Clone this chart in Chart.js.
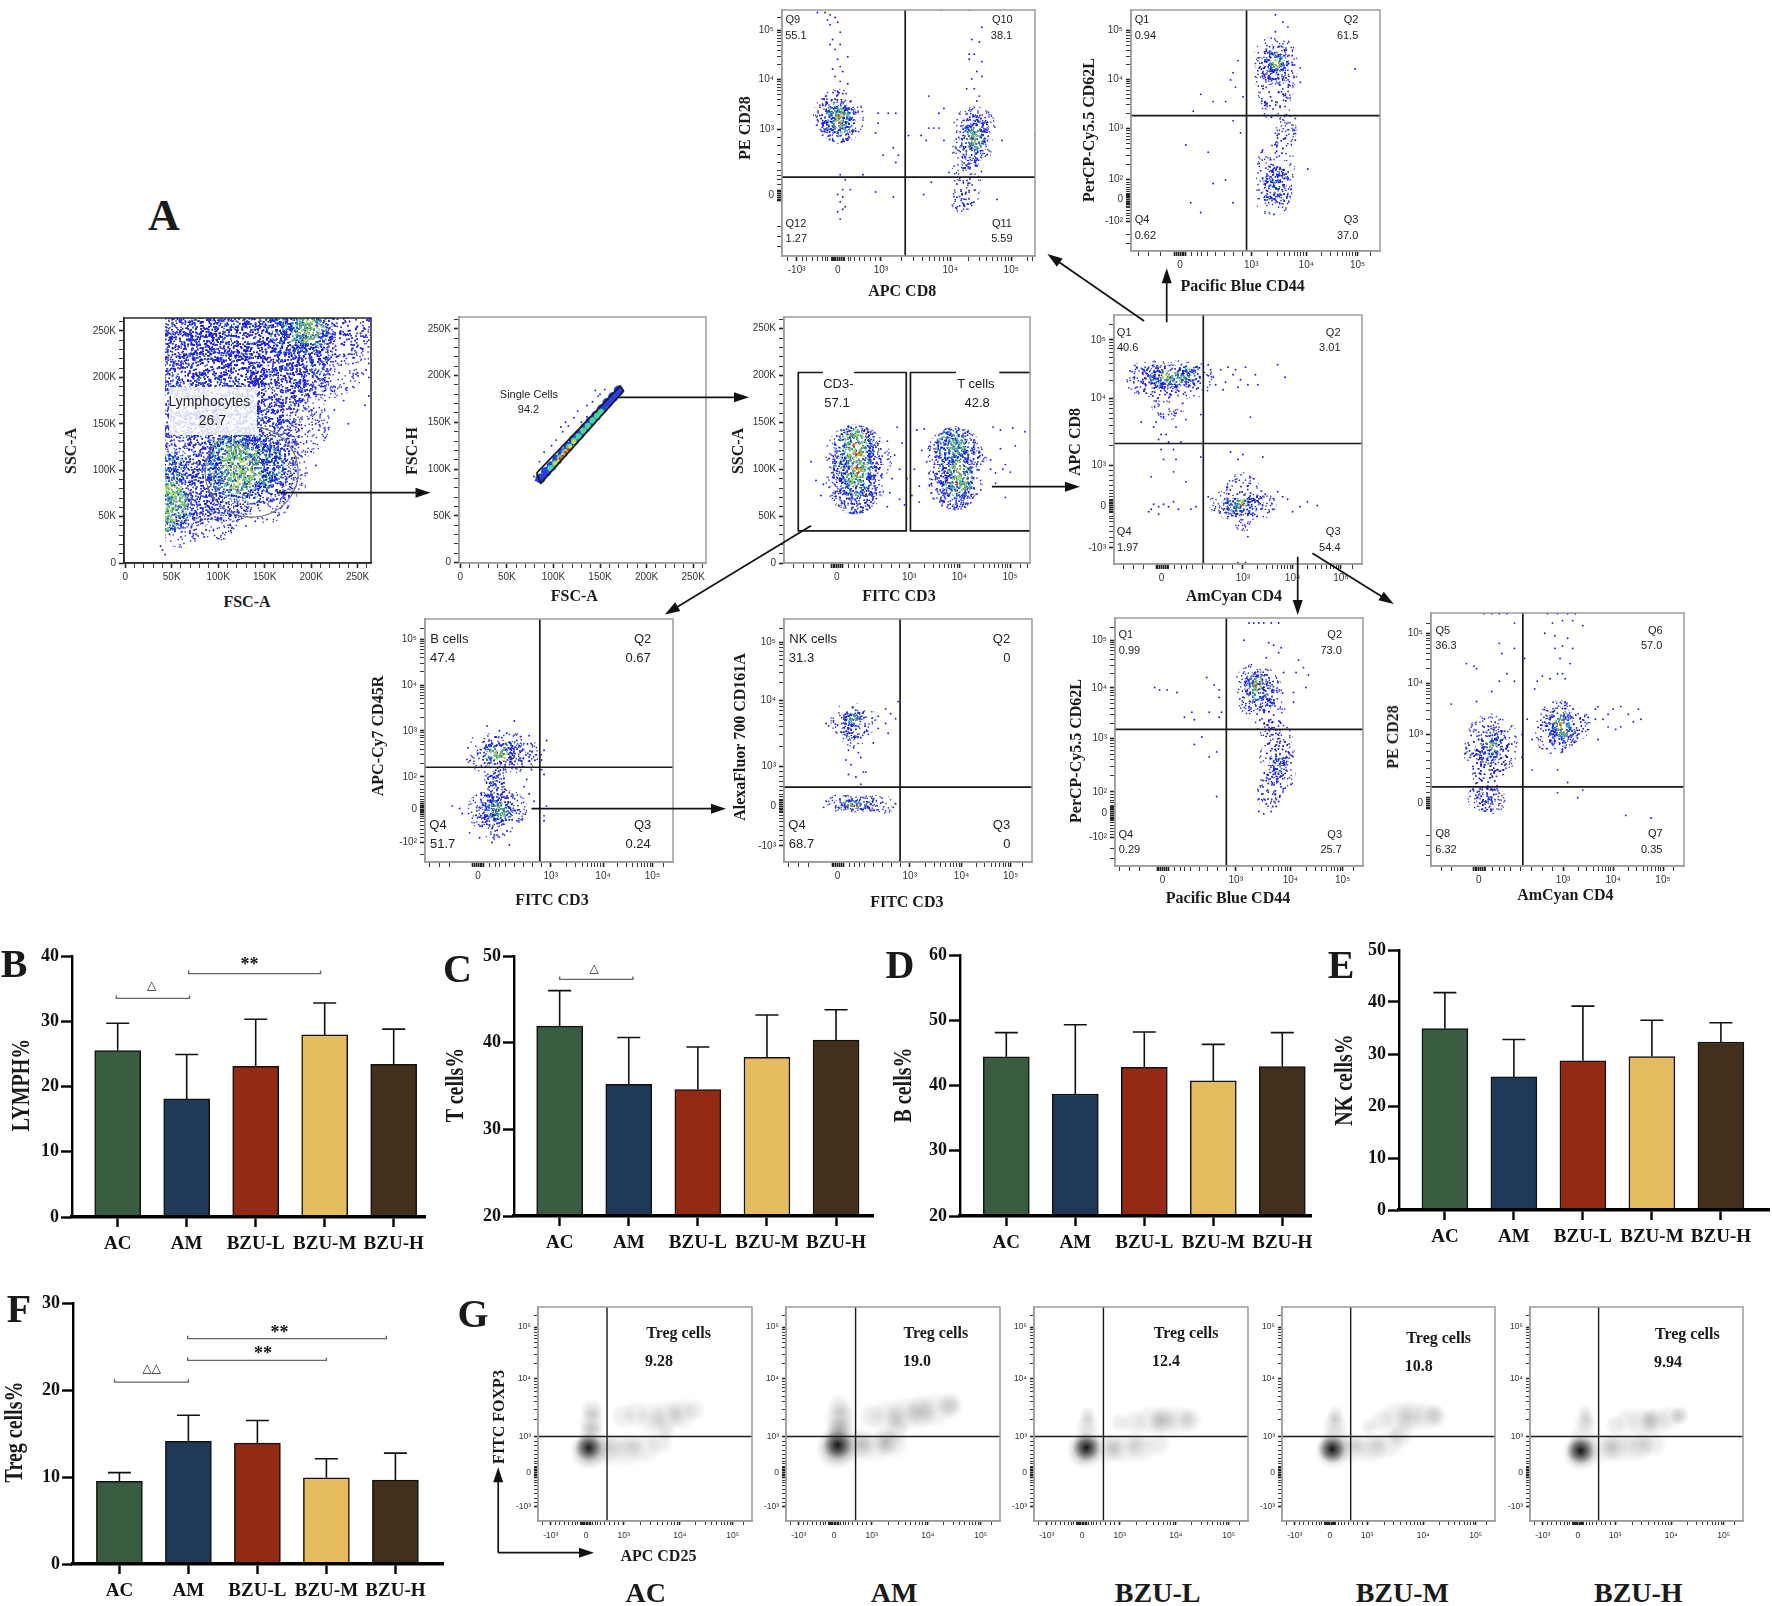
<!DOCTYPE html>
<html><head><meta charset="utf-8">
<script src="https://cdn.jsdelivr.net/npm/chart.js@4"></script>
<style>
html,body{margin:0;padding:0;background:#fff;width:1772px;height:1606px;overflow:hidden}
#stage{position:relative;width:1772px;height:1606px;background:#fff}
canvas{position:absolute}
.t{position:absolute;white-space:nowrap;transform-origin:center;color:#1a1a1a;line-height:1}
svg{position:absolute;left:0;top:0}
</style></head><body><div id="stage"></div>
<script>
/* ---------- bar panels ---------- */
const groups=['AC','AM','BZU-L','BZU-M','BZU-H'];
const barColors=['#3a5d41','#1f3a59','#952a14','#e5bd60','#43301c'];
const lymphMean=[25.5,18.1,23.1,27.9,23.4], lymphTop=[29.7,24.9,30.3,32.8,28.8];
const tCellMean=[41.9,35.2,34.6,38.3,40.3], tCellTop=[46.0,40.6,39.5,43.2,43.8];
const bCellMean=[44.4,38.7,42.8,40.7,42.9], bCellTop=[48.1,49.3,48.2,46.3,48.1];
const nkCellMean=[34.9,25.6,28.7,29.5,32.3], nkCellTop=[41.8,32.8,39.2,36.5,36.0];
const tregMean=[9.5,14.1,13.9,9.9,9.65], tregTop=[10.5,17.1,16.5,12.1,12.75];
const lymphBrackets=[[-0.02,1.04,33.5,'△',0.49,35.4],[1.03,2.94,37.3,'**',1.91,39.0]];
const tCellBrackets=[[0,1.06,47.3,'△',0.5,48.5]];
const tregBrackets=[[-0.07,1,20.9,'△△',0.47,22.4],[0.99,3,23.4,'**',2.08,24.4],[0.99,3.87,25.9,'**',2.32,26.9]];

/* ---------- flow tick labels ---------- */
const kLabels=['0','50K','100K','150K','200K','250K'], kValues=[0,50,100,150,200,250];
const sup={p2:'10²',p3:'10³',p4:'10⁴',p5:'10⁵',n2:'-10²',n3:'-10³'};

/* ---------- flow plots: [x, y, r] clouds, [x, y] stray events ---------- */
const p1Sparse=[[215,225,45],[215,262,45],[183,150,35],[240,255,24],[170,95,26],[150,70,26],[100,50,24],[60,40,22]];
const p1Mid=[[62,75,40],[62,125,40],[62,175,40],[62,225,45],[62,258,42],[110,85,38],[110,135,40],[110,180,40],[110,225,45],[110,258,42],[150,100,33],[150,145,38],[150,190,42],[150,235,42],[150,260,40],[190,205,30],[190,240,34],[190,262,30]];
const p1Dense=[[45,60,24],[45,100,20],[125,105,36],[115,125,20],[150,105,22],[195,250,22],[170,255,18]];
const p1Green=[[40,50,14],[48,65,17],[38,38,8],[52,80,10],[125,105,20],[125,90,13],[118,115,13],[195,250,13],[205,258,8]];
const p1Strays=[[240,150],[262,180],[262,200],[255,230],[245,215],[235,235],[225,190],[215,175],[205,150],[195,130],[190,145],[200,120],[180,125],[170,100],[170,70],[190,95],[215,135],[210,160],[225,165],[235,175],[245,190],[250,205],[258,170],[262,215],[262,240],[240,250],[250,255],[230,205],[220,220],[240,225],[228,255],[235,258],[215,245],[43,9],[38,18],[40,14],[60,28],[70,32],[75,26],[85,28],[95,35],[105,32],[115,38],[130,40],[140,45],[160,55],[175,60],[185,88],[205,105]];
const p2BandBlue=[[86,90],[92,97],[98,103],[104,110],[110,117],[116,124],[122,131],[128,137],[134,144],[140,151],[146,157],[152,164],[158,171],[164,177],[170,184]];
const p2BandGreen=[[97,101],[102,106],[107,112],[112,118],[117,124],[122,130],[127,135],[132,141],[137,146],[142,152],[147,157],[151,161]];
const p2BandYellow=[[102,106],[106,110],[110,115],[114,119],[118,124],[122,129]];
const p2BandRed=[[107,111],[110,114],[113,118],[116,121]];
const p2Strays=[[79,92],[81,88],[85,108],[90,118],[98,125],[103,131],[110,140],[108,145],[113,150],[116,146],[122,155],[126,162],[136,168],[142,172],[148,178],[145,184],[150,180],[155,185],[118,130],[130,150],[136,156]];
const p2Gate=[[81.9,95.7],[86.5,85],[175.2,183.3],[171.5,188.7],[81.9,95.7]];
const p3Sparse=[[29,116,30],[29,85,30],[36,110,20],[69.5,116,28],[69.5,86,28],[76,110,16]];
const p3Mid=[[29,122,24],[29,100,24],[29,75,22],[69.5,122,22],[69.5,100,22],[70,78,20]];
const p3Dense=[[29,125,18],[29,105,18],[29,88,16],[69,125,16],[70,105,16],[71,85,15]];
const p3Green=[[29,130,11],[30,110,11],[29,92,10],[70,125,9],[71,100,9],[71,85,9]];
const p3Red=[[30,115,4],[30,100,4],[29,125,3],[71,97,3],[70,85,3]];
const p3Strays=[[11,108],[13,88],[16,84],[15,72],[42,130],[46,145],[48,128],[45,115],[47,100],[44,90],[43,75],[47,68],[49,62],[42,60],[50,90],[53,100],[55,82],[52,72],[55,65],[54,142],[57,143],[56,120],[58,108],[59,96],[85,145],[88,142],[93,144],[98,140],[88,122],[84,110],[84,100],[86,96],[89,100],[92,97],[90,105],[86,85],[80,78],[90,70],[94,125],[100,118],[62,118],[60,85]];
const p3Gate1=[[15.8,203.3],[5.8,203.3],[5.8,34.2],[49.7,34.2],[49.7,203.3],[28.5,203.3]];
const p3Gate2=[[69.9,203.3],[51.4,203.3],[51.4,34.2],[100,34.2]];
const p3Gate3=[[100,203.3],[87.5,203.3]];
const p4Sparse=[[22.3,56.3,26],[22,60,20],[76,52,22],[75,43,20],[73,33,16],[73,26,14],[71.5,22,12]];
const p4Mid=[[22.3,57,18],[22.3,53,18],[76,52,15],[76,47,15],[74,38,10]];
const p4Dense=[[22.3,58,12],[22.3,54,12],[76,50,10],[76,47,10]];
const p4Green=[[22.3,58,6],[22.3,54,6],[76,50,6],[76.5,47,6]];
const p4Red=[[22.5,57,2.5],[22.3,54,2.5],[77,48,2]];
const p4Strays=[[14,99],[17,99],[19,98],[18,96],[21,97],[19,94],[22,95],[23,91],[20,88],[21,84],[19,86],[23,86],[26,81],[22,80],[23,77],[20,76],[24,75],[21,73],[23,71],[26,70],[22,67],[24,66],[79,93],[75,88],[78,87],[74,82],[76,82],[74,80],[79,79],[77,75],[75,72],[79,73],[73,68],[76,68],[78,65],[77,63],[63,100],[74,100],[58,65],[64,60],[62,58],[58,52],[60,52],[62,52],[55,49],[57,47],[64,47],[38,58],[42,58],[38,54],[45,58],[37,50],[44,44],[40,41],[45,38],[46,41],[23,33],[25,31],[27,27],[30,32],[32,33],[24,27],[22,25],[23,22],[25,20],[22,18],[24,24],[37,26],[44,24],[24,19],[23,15],[52,32],[59,30],[56,25],[66,34],[85,23],[87,47],[100,49],[50,49]];
const p5Sparse=[[58,80,22],[58,73,22],[58,66,18],[58,60,15],[58,36,20],[58,28,20],[57,22,18],[60,44,12],[62,50,12]];
const p5Mid=[[58,80,14],[58,74,14],[58,30,13],[58,24,13]];
const p5Dense=[[58,79,9],[58.5,76,8],[58,28,8]];
const p5Green=[[58,78,6],[58,28,2]];
const p5Red=[[58.5,77.5,2.5]];
const p5Strays=[[58,98],[61,95],[63,93],[58,91],[90,75.5],[68,76],[68,70],[43,79],[41,74],[40,71],[42,68],[28,65],[45,64],[38,62],[33,62],[25,58],[41,54],[44,49],[22,44],[31,41],[33,28],[38,29.5],[24,20],[28,16],[41,20],[71,34],[64,56],[66,55],[65,50],[66,46]];
const p6Sparse=[[12,74,18],[18,74,20],[27,74,20],[33,74,18],[22,65,18],[52,25,18],[52,20,17],[52,30,17],[44,24,14],[60,24,14]];
const p6Mid=[[16,75,13],[23,75,13],[30,76,13],[52,24,12],[48,23.5,11],[56,24,11]];
const p6Dense=[[18,75,9],[24,75,9],[29,76,9],[52,24,8],[49,23.5,8]];
const p6Green=[[21,75,6],[25,75,6],[52,24,5],[50,24,5]];
const p6Red=[[52,23.6,2.5]];
const p6Strays=[[38,80],[39,78],[40,75],[43,78],[46,79],[49,78],[53,79],[45,73],[48,76],[51,74],[54,72],[57,76],[58,72],[66,80],[69,75],[41,72],[44,70],[50,71],[17,57],[22,60],[16,55],[19,52],[25,55],[29,58],[35,60],[11,57],[18,50],[22,49],[27,49],[55,59],[19,46],[24,46],[35,43],[20,42],[25,42],[16,24],[18,23],[15,22],[20,24],[22,23],[24,25],[26,22],[14,21],[18,20],[31,22],[33,23],[15,35],[24,37],[29,33],[38,27],[61,28],[66,29],[68,27],[70,26],[75,23],[78,25],[82,23.5],[64,22],[72,21],[47,45],[50,42],[52,44],[60,43],[53,15],[54,11],[21,52],[50,0.5],[53,0.5]];
const p7Sparse=[[24,45,20],[30,45,20],[36,45,20],[42,44,14],[28.5,35,12],[28.5,30,12],[25,21,20],[30,21,20],[34,22,18],[29,16,18]];
const p7Mid=[[26,45,13],[31,45,13],[36,45,12],[28.5,34,9],[28.5,29,9],[26,22,13],[31,22,13],[28,18,13]];
const p7Dense=[[27,45,9],[31,45,9],[28,22,9],[31,21,9]];
const p7Green=[[28.5,45,6],[31,44.5,6],[28.5,22,6],[31,21,6]];
const p7Red=[[29.5,44.8,2],[30,22,2]];
const p7Strays=[[47,42],[47,38],[48,46],[49,50],[42,52],[36,58],[30,54],[33,53],[37,50],[48,36],[43,38],[41,34],[40,31],[42,28],[44,25],[49,23],[48,19],[48,17],[11,23],[14,22],[15,20],[18,12],[22,10],[27,8],[34,7],[25,56]];
const p8Sparse=[[26,58,18],[30,58,18],[28,53,14],[21,24,9],[25,24,9],[29,24,9],[33,24,9],[37,24,9],[41,23.5,9]];
const p8Mid=[[28,59,10],[27,54,10],[23,23.5,7],[27,23.5,7],[31,23.5,7],[35,23.5,7]];
const p8Dense=[[28,59,6],[26,23.5,5],[30,23.5,5],[33,23.5,5]];
const p8Green=[[28,58.5,3],[27,23.5,3.5],[30,23.5,3.5],[32,23.5,3.5]];
const p8Red=[[28,23,1.5],[30,22.8,1.5],[26,23,1.5]];
const p8Strays=[[28,47],[26,46],[30,45],[31,43],[25,42],[27,40],[32,37],[26,36],[33,37],[29,35],[31,32],[41,63],[43,61],[38,60],[41,57],[45,59],[42,53],[38,55],[36,49],[46,66],[17,57],[18,56],[17,25],[16,22.5],[45,24],[44,22.5]];
const p9Sparse=[[57,73,22],[60,70,20],[57,66,18],[63,62,15],[62,57,14],[66,52,14],[67,45,14],[65,44,17],[66,37,17],[63,32,15],[62,28,12]];
const p9Mid=[[57.5,73,14],[59,68,14],[66,42,10],[65,37,10]];
const p9Dense=[[57,73,9],[58,70,9],[66,42,5],[65,38,5]];
const p9Green=[[57.5,74,5],[57,71,5],[65.5,38,1.5],[66,40,1.5]];
const p9Red=[[57,72.5,2]];
const p9Strays=[[54,98],[56,98],[58,98],[60,98],[63,98],[66,98],[52,91],[62,90],[64,89],[67,88],[66,86],[61,84],[68,78],[74,83],[76,80],[73,78],[78,77],[77,72],[72,70],[72,66],[16,72],[18,71],[21,71],[25,70],[40,73],[42,71],[37,76],[31,62],[38,62],[43,62],[28,60],[32,59],[42,60],[35,52],[32,49],[38,44],[41,46],[42,68],[41,28],[58,22],[60,21],[63,22],[58,27],[61,25],[65,24],[66,26],[71,33]];
const p10Sparse=[[51,56,24],[56,56,18],[49,52,20],[24,50,26],[22,46,24],[25,44,22],[23,40,18],[20,27,14],[24,26,14],[22,30,14],[21,36,12]];
const p10Mid=[[51,57,15],[52,52,15],[24,49,15],[23,45,15],[21,26,8],[23,25,8]];
const p10Dense=[[51.5,57,10],[52,54,10],[24,49,8],[24,46,8]];
const p10Green=[[51,56,6],[52,53,6],[25,48,3],[23,48,3]];
const p10Red=[[51.7,54.5,3],[51.7,55.5,3]];
const p10Strays=[[21,99.7],[24,99.7],[27,99.7],[30,99.7],[46,99.7],[50,99.7],[54,99.7],[57,99.7],[48,96],[52,97],[56,97],[60,95],[33,96],[45,92],[49,91],[54,90],[52,87],[56,86],[37,82],[33,86],[27,88],[28,84],[14,80],[17,79],[18,78],[41,70],[49,86],[51,82],[55,80],[52,76],[53,74],[50,76],[47,74],[44,75],[42,73],[30,76],[33,73],[27,73],[24,69],[18,65],[8,64],[66,63],[72,62],[65,62],[70,60],[75,63],[78,60],[82,62],[83,58],[80,57],[75,55],[70,55],[65,58],[68,58],[73,54],[66,50],[38,58],[36,52],[40,50],[43,47],[36,43],[40,38],[50,38],[54,33],[50,29],[60,30],[58,27],[77,20],[87,19]];

/* ---------- density panels: [x, y, r, depth] peaks and [x, y, r] plateau outlines ---------- */
const gAC=[[23.7,34.4,14,.95],[24,33,20,.35],[25.8,50,12,.12],[25,43,12,.14],[65,50,14,.1],[56,47,14,.08],[43,35,14,.12],[33,34.5,15,.14]];
const gAM=[[24.2,35.6,15,1],[24,34,22,.4],[25.8,49.7,15,.15],[25,43,14,.25],[62.7,51,16,.18],[77,54,13,.14],[52,48,15,.14],[46.7,37,15,.22],[35,36,15,.2]];
const gBL=[[24.5,34.4,14,1],[24,33,19,.35],[25.3,47,9,.1],[59.8,47,14,.2],[71.8,48,12,.08],[48,36,14,.12],[37,34,15,.16]];
const gBM=[[23.5,33.6,14,1],[24,33,19,.32],[24.8,47,10,.12],[59.5,48.5,15,.12],[71.5,49.5,11,.1],[43.5,35,14,.12],[54,40,12,.08],[34,35,12,.14]];
const gBH=[[23.7,33,14,1],[24,32,19,.35],[26.4,47,10,.12],[56.5,47,13,.18],[70,49.5,10,.13],[52.5,35.5,14,.13],[39,34.5,15,.17]];
const gACBase=[[25,52,12],[25,46,14],[25,40,15],[24,33,18],[33,33,18],[42,33,18],[50,34,17],[57,37,14],[40,49,13],[46,50,14],[53,48,17],[60,49,17],[67,50,17],[73,52,12],[60,42,10]];
const gAMBase=[[25,54,12],[25,47,17],[25,40,17],[24,35,19],[33,35,19],[42,35,18],[50,36,16],[40,49,14],[47,49,18],[55,50,19],[63,51,19],[70,52,18],[76,54,14],[52,42,13]];
const gBLBase=[[25,50,8],[25,45,12],[25,39,15],[24,34,18],[33,34,18],[42,34,17],[50,34,16],[58,36,13],[40,46,10],[47,46,13],[54,47,16],[61,47,17],[68,47,16],[73,47,13]];
const gBMBase=[[25,50,9],[25,45,13],[25,39,15],[24,34,18],[33,34,17],[42,34,17],[50,36,16],[56,40,14],[41,44,9],[47,47,13],[54,49,17],[61,49,18],[68,49,16],[72,49,13]];
const gBHBase=[[26,51,8],[26,46,12],[25,39,15],[24,33,18],[33,34,18],[42,35,18],[50,35,17],[58,36,14],[40,45,10],[46,47,14],[53,46,16],[59,46,16],[65,48,14],[70,49,10]];
const gXTicks=[[6,sup.n3],[22.5,'0'],[40,sup.p3],[66.3,sup.p4],[91,sup.p5]];
const gYTicks=[[90.6,sup.p5],[66.4,sup.p4],[39.4,sup.p3],[22.7,'0'],[6.6,sup.n3]];

/* ---------- helpers ---------- */
const stage=document.getElementById('stage');
const SERIF='"Liberation Serif","Times New Roman",serif', SANS='"Liberation Sans",Arial,sans-serif';
function lbl(text,x,y,o={}){
  const d=document.createElement('div');d.className='t';d.textContent=text;
  d.style.left=x+'px';d.style.top=y+'px';
  d.style.font=(o.bold===false?'':'bold ')+(o.size||16)+'px '+(o.font||SERIF);
  d.style.transform='translate(-50%,-50%)'+(o.rot?' rotate(-90deg)':'')+(o.sx||o.sy?` scale(${o.sx||1},${o.sy||1})`:'');
  if(o.color)d.style.color=o.color;
  d.style.zIndex=5;stage.appendChild(d);return d;
}
const sans=(t,x,y,s)=>lbl(t,x,y,{size:s,font:SANS,bold:false,color:'#222'});

const tileCtx=document.createElement('canvas').getContext('2d');
const hash=v=>{const s=Math.sin(v)*43758.5453;return s-Math.floor(s);};
function speckle(n,colors,size=1.4){
  const T=160,c=document.createElement('canvas');c.width=c.height=T;const g=c.getContext('2d');
  for(let i=1;i<=n;i++){
    const x=hash(i*12.9898)*T,y=hash(i*78.233)*T;
    g.fillStyle=colors[i%colors.length];g.fillRect(x,y,size,size);
  }
  return tileCtx.createPattern(c,'repeat');
}
const BLUE='#1c1ce8';
const fills={
  sparse:speckle(1700,[BLUE,BLUE,'#3a3af5']),
  mid:speckle(4800,[BLUE,BLUE,'#2f2ff0','#1c1ce8','#3a6ad8']),
  dense:speckle(7000,[BLUE,BLUE,BLUE,'#25a8c8','#63d86a']),
  green:speckle(6500,['#69e05a','#9ae23c','#3ecf88','#2a3ae0','#d2e638'],1.5),
  red:speckle(5000,['#e8321a','#f08a1e','#e8c52a','#e8321a'],1.6)
};
function mkCanvas(left,top,w,h){
  const c=document.createElement('canvas');c.width=w;c.height=h;
  c.style.left=left+'px';c.style.top=top+'px';c.style.width=w+'px';c.style.height=h+'px';
  stage.appendChild(c);return c;
}
function logMinors(maj){
  const out=[],frac=[.08,.16,.24,.3,.38,.5,.62,.75,.87];
  for(let i=0;i+1<maj.length;i++){
    const a=maj[i],b=maj[i+1],pa=a[1].startsWith('10'),pb=b[1].startsWith('10');
    if(pa&&pb){for(let m=2;m<10;m++)out.push(a[0]+(b[0]-a[0])*Math.log10(m));}
    else if(a[1]==='0'){frac.forEach(f=>out.push(a[0]+(b[0]-a[0])*f));}
    else{frac.forEach(f=>out.push(b[0]-(b[0]-a[0])*f));}
  }
  return out;
}
function zeroCluster(maj){
  const z=maj.find(m=>m[1]==='0');if(!z)return[];
  return [-2.2,-1.5,-.8,.8,1.5,2.2].map(d=>z[0]+d);
}
function tickSet(maj,extra){
  const asc=maj.slice().sort((a,b)=>a[0]-b[0]);
  const ticks=asc.map(m=>({value:m[0],lbl:m[1],major:true}));
  logMinors(asc).concat(extra||[]).forEach(v=>ticks.push({value:v,lbl:'',major:false}));
  zeroCluster(asc).forEach(v=>ticks.push({value:v,lbl:'',major:true}));
  return ticks.sort((a,b)=>a.value-b.value);
}
function kTicks(){
  const t=[];for(let v=0;v<=260;v+=10)if(v%50)t.push({value:v,lbl:'',major:false});
  kValues.forEach((v,i)=>t.push({value:v,lbl:kLabels[i],major:true}));
  return t.sort((a,b)=>a.value-b.value);
}
function flowScale(o){
  return {type:'linear',min:o.min,max:o.max,
    afterBuildTicks(s){s.ticks=o.ticks.map(t=>({...t}));},
    afterFit(s){if(o.w)s.width=o.w;if(o.h)s.height=o.h;},
    border:{display:true,color:o.line,width:1.5},
    grid:{drawOnChartArea:false,drawTicks:true,tickLength:o.tickLen||5,
      tickWidth:c=>c.tick&&c.tick.major?1.6:0.9,tickColor:'#222'},
    ticks:{autoSkip:false,maxRotation:0,minRotation:0,color:o.tcolor||'#333',padding:o.pad==null?3:o.pad,
      font:{family:SANS,size:o.size||10},
      callback(v,i,ts){return ts[i]&&ts[i].lbl!==undefined?ts[i].lbl:'';}}
  };
}
const tri=a=>(a||[]).map(p=>({x:p[0],y:p[1],r:p[2]}));
function flow(o){
  const L=52,B=30,R=24,T=Math.min(12,Math.floor(o.top));
  const left=Math.round(o.left),top=Math.round(o.top),w=Math.round(o.right-o.left),h=Math.round(o.bottom-o.top);
  const cv=mkCanvas(left-L,top-T,w+L+R,h+T+B);
  const layers=[];
  const add=(rows,fill,clip)=>{if(rows&&rows.length)layers.push({data:rows,backgroundColor:fill,borderWidth:0,clip:clip||0,hoverRadius:0});};
  const c=o.clip||0;
  const clip=c?{left:-c,top:0,right:0,bottom:0}:0;
  add(tri(o.sparse),fills.sparse,clip);add(tri(o.mid),fills.mid,clip);add(tri(o.dense),fills.dense,clip);
  add(tri(o.green),fills.green,clip);add(tri(o.red),fills.red,clip);
  (o.solid||[]).forEach(s=>add(s[0].map(p=>({x:p[0],y:p[1],r:s[2]})),s[1]));
  if(o.strays)add(o.strays.map(p=>({x:p[0],y:p[1],r:.95})),BLUE,0);
  const radial=(stops)=>function(ctx){
      if(ctx.type!=='data'||!ctx.chart.scales.x||!ctx.raw)return 'rgba(0,0,0,0)';
      const s=ctx.chart.scales,px=s.x.getPixelForValue(ctx.raw.x),py=s.y.getPixelForValue(ctx.raw.y),r=ctx.raw.r,a=ctx.raw.a;
      if(!isFinite(px)||!isFinite(py))return 'rgba(0,0,0,0)';
      const g=ctx.chart.ctx.createRadialGradient(px,py,0,px,py,r);
      stops.forEach(t=>g.addColorStop(t[0],`rgba(${t[1]},${t[1]},${t[1]},${a*t[2]})`));
      return g;
    };
  if(o.base)layers.push({data:o.base.map(p=>({x:p[0],y:p[1],r:p[2],a:.14})),borderWidth:0,clip:0,
    backgroundColor:radial([[0,110,1],[.5,120,.8],[.8,135,.4],[1,150,0]])});
  if(o.density)layers.push({data:o.density.map(p=>({x:p[0],y:p[1],r:p[2],a:p[3]})),borderWidth:0,clip:0,
    backgroundColor:radial([[0,15,1],[.5,60,.6],[.85,110,.2],[1,150,0]])});
  layers.forEach((d,i)=>d.order=-i);
  const line=o.line||'#9c9c9c';
  const gatePlugin={id:'gates',afterDatasetsDraw(ch){
    const g=ch.ctx,a=ch.chartArea,sx=ch.scales.x,sy=ch.scales.y;
    g.save();
    if(o.ellipse){
      const e=o.ellipse;g.strokeStyle='#777';g.lineWidth=1.2;g.beginPath();
      g.ellipse(sx.getPixelForValue(e[0]),sy.getPixelForValue(e[1]),Math.abs(sx.getPixelForValue(e[0]+e[2])-sx.getPixelForValue(e[0])),Math.abs(sy.getPixelForValue(e[1]+e[3])-sy.getPixelForValue(e[1])),0,0,Math.PI*2);g.stroke();
    }
    g.strokeStyle='#1a1a1a';g.lineWidth=o.gw||1.7;
    if(o.gate){
      const X=sx.getPixelForValue(o.gate[0]),Y=sy.getPixelForValue(o.gate[1]);
      g.beginPath();g.moveTo(X,a.top);g.lineTo(X,a.bottom);g.moveTo(a.left,Y);g.lineTo(a.right,Y);g.stroke();
    }
    (o.polys||[]).forEach(p=>{g.beginPath();p.forEach((q,i)=>{const X=sx.getPixelForValue(q[0]),Y=sy.getPixelForValue(q[1]);i?g.lineTo(X,Y):g.moveTo(X,Y);});g.stroke();});
    g.strokeStyle=line;g.lineWidth=1.5;g.strokeRect(a.left,a.top,a.right-a.left,a.bottom-a.top);
    g.restore();
  }};
  new Chart(cv,{type:'bubble',data:{datasets:layers},plugins:[gatePlugin],options:{
    responsive:false,animation:false,devicePixelRatio:1,events:[],
    layout:{autoPadding:false,padding:{left:0,top:T,right:R,bottom:0}},
    plugins:{legend:{display:false},tooltip:{enabled:false},title:{display:false}},
    scales:{
      x:flowScale({min:o.xmin==null?0:o.xmin,max:o.xmax==null?100:o.xmax,ticks:o.xticks,h:B,line,size:o.fs,pad:o.xpad,tickLen:o.tl}),
      y:flowScale({min:o.ymin==null?0:o.ymin,max:o.ymax==null?100:o.ymax,ticks:o.yticks,w:L,line,size:o.fs,tickLen:o.tl})
    }}});
}
function barPanel(o){
  const L=60,R=40,T=14,B=46;
  const left=Math.round(o.left),top=Math.round(o.top),w=Math.round(o.right-o.left),h=Math.round(o.bottom-o.top);
  const cv=mkCanvas(left-L,top-T,w+L+R,h+T+B);
  const xmin=-(o.c0-o.left)/o.step,xmax=xmin+(o.right-o.left)/o.step;
  const xt=groups.map((g,i)=>({value:i,lbl:g}));
  const yt=o.yticks.map(v=>({value:v,lbl:String(v)}));
  const extras={id:'extras',afterDatasetsDraw(ch){
    const g=ch.ctx,sx=ch.scales.x,sy=ch.scales.y;g.save();
    g.strokeStyle='#111';g.lineWidth=1.6;
    o.means.forEach((m,i)=>{
      const X=sx.getPixelForValue(i),Y0=sy.getPixelForValue(m),Y1=sy.getPixelForValue(o.tops[i]);
      g.beginPath();g.moveTo(X,Y0);g.lineTo(X,Y1);g.moveTo(X-11.5,Y1);g.lineTo(X+11.5,Y1);g.stroke();
    });
    (o.brackets||[]).forEach(b=>{
      const X0=sx.getPixelForValue(b[0]),X1=sx.getPixelForValue(b[1]),Y=sy.getPixelForValue(b[2]);
      g.strokeStyle='#666';g.lineWidth=1.4;g.beginPath();g.moveTo(X0,Y-3);g.lineTo(X0,Y);g.lineTo(X1,Y);g.lineTo(X1,Y-3);g.stroke();
      g.fillStyle='#111';g.textAlign='center';g.textBaseline='middle';
      g.font=b[3]==='**'?'bold 18px '+SERIF:'12px "DejaVu Sans",sans-serif';
      g.fillText(b[3],sx.getPixelForValue(b[4]),sy.getPixelForValue(b[5])+(b[3]==='**'?3:0));
    });
    g.restore();
  }};
  new Chart(cv,{type:'bar',data:{datasets:[{data:o.means.map((m,i)=>({x:i,y:m})),backgroundColor:barColors,borderColor:'#111',borderWidth:1.5,barThickness:46,borderSkipped:false}]},plugins:[extras],options:{
    responsive:false,animation:false,devicePixelRatio:1,events:[],
    layout:{padding:{left:0,top:T,right:R,bottom:0}},
    plugins:{legend:{display:false},tooltip:{enabled:false},title:{display:false}},
    scales:{
      x:{type:'linear',min:xmin,max:xmax,offset:false,
        afterBuildTicks(s){s.ticks=xt.map(t=>({...t}));},
        afterFit(s){s.height=B;},
        border:{display:true,color:'#000',width:3.5,z:2},
        grid:{drawOnChartArea:false,offset:false,tickLength:10,tickWidth:2.4,tickColor:'#000'},
        ticks:{autoSkip:false,maxRotation:0,minRotation:0,color:'#111',padding:6,font:{family:SERIF,weight:'bold',size:19},
          callback(v,i,ts){return ts[i]?ts[i].lbl:'';}}},
      y:{type:'linear',min:o.ymin,max:o.ymax,
        afterBuildTicks(s){s.ticks=yt.map(t=>({...t}));},
        afterFit(s){s.width=L;},
        border:{display:true,color:'#000',width:2.4,z:2},
        grid:{drawOnChartArea:false,tickLength:11,tickWidth:2.4,tickColor:'#000'},
        ticks:{autoSkip:false,color:'#111',padding:2,font:{family:SERIF,weight:'bold',size:18},
          callback(v,i,ts){return ts[i]?ts[i].lbl:'';}}}
    }}});
}

/* ---------- bar panels B-F ---------- */
barPanel({left:72,right:425,top:955.7,bottom:1216.7,c0:117.7,step:69,ymin:0,ymax:40,yticks:[0,10,20,30,40],means:lymphMean,tops:lymphTop,brackets:lymphBrackets});
barPanel({left:514,right:872.5,top:955.7,bottom:1216,c0:559.6,step:69,ymin:20,ymax:50,yticks:[20,30,40,50],means:tCellMean,tops:tCellTop,brackets:tCellBrackets});
barPanel({left:960,right:1311,top:955,bottom:1216,c0:1006.3,step:69,ymin:20,ymax:60,yticks:[20,30,40,50,60],means:bCellMean,tops:bCellTop});
barPanel({left:1399,right:1769,top:950,bottom:1210.3,c0:1444.9,step:69,ymin:0,ymax:50,yticks:[0,10,20,30,40,50],means:nkCellMean,tops:nkCellTop});
barPanel({left:73,right:443,top:1302.7,bottom:1563.3,c0:119.4,step:69,ymin:0,ymax:30,yticks:[0,10,20,30],means:tregMean,tops:tregTop,brackets:tregBrackets});
const barTitle={size:20,rot:1,sy:1.25};
lbl('LYMPH%',21,1085,barTitle);lbl('T cells%',455,1085,barTitle);lbl('B cells%',903,1085,barTitle);lbl('NK cells%',1344,1080,barTitle);lbl('Treg cells%',14,1432,barTitle);
[['A',164,215,44],['B',14,963,40],['C',457.5,968,40],['D',900,964,40],['E',1341,964,40],['F',19,1308,40],['G',473,1313,40]].forEach(p=>lbl(p[0],p[1],p[2],{size:p[3]}));

/* ---------- flow plots ---------- */
flow({left:124,right:370.6,top:318.3,bottom:563.3,xmin:-1.3,xmax:264.4,ymin:0,ymax:264,xticks:kTicks(),yticks:kTicks(),line:'#2a2a2a',clip:41,gw:1.2,
  sparse:p1Sparse,mid:p1Mid,dense:p1Dense,green:p1Green,strays:p1Strays,ellipse:[136,98,50,48.5]});
flow({left:459,right:705.6,top:316.7,bottom:562.7,xmin:-1.4,xmax:263.8,ymin:-.4,ymax:262.6,xticks:kTicks(),yticks:kTicks(),
  solid:[[p2BandBlue,'#2440e6',5],[p2BandGreen,'#46d6a0',3.2],[p2BandYellow,'#d8e034',2.2],[p2BandRed,'#e43218',1.6]],strays:p2Strays,polys:[p2Gate]});
const p3x=[[21.5,'0'],[50.9,sup.p3],[71.3,sup.p4],[91.9,sup.p5]];
flow({left:784.2,right:1030.5,top:316.7,bottom:562.3,xticks:tickSet(p3x,[4,8,12,16,96,99]),yticks:kTicks(),ymin:0,ymax:262.5,
  sparse:p3Sparse,mid:p3Mid,dense:p3Dense,green:p3Green,red:p3Red,strays:p3Strays,polys:[p3Gate1,p3Gate2,p3Gate3]});
const gateMinors=[2,97,99];
flow({left:781.6,right:1034.4,top:2.7,bottom:255.7,gate:[48.7,32.1],xticks:tickSet([[5.8,sup.n3],[22,'0'],[39.1,sup.p3],[66.5,sup.p4],[90.6,sup.p5]],gateMinors),
  yticks:tickSet([[24.6,'0'],[51.6,sup.p3],[71.8,sup.p4],[91.6,sup.p5]],[4,8,12,97]),sparse:p4Sparse,mid:p4Mid,dense:p4Dense,green:p4Green,red:p4Red,strays:p4Strays});
flow({left:1130.7,right:1380,top:2.7,bottom:251,gate:[46.4,56.2],xticks:tickSet([[19.7,'0'],[48.3,sup.p3],[70.4,sup.p4],[91,sup.p5]],[3,7,12,96]),
  yticks:tickSet([[12.3,sup.n2],[21.4,'0'],[29.7,sup.p2],[50.8,sup.p3],[71.3,sup.p4],[91.4,sup.p5]],[3,7]),sparse:p5Sparse,mid:p5Mid,dense:p5Dense,green:p5Green,red:p5Red,strays:p5Strays});
flow({left:1113.8,right:1361.9,top:315,bottom:563.7,gate:[36,48.4],xticks:tickSet([[19.2,'0'],[52,sup.p3],[72,sup.p4],[91.5,sup.p5]],[4,8,12,96]),
  yticks:tickSet([[6.5,sup.n3],[23.3,'0'],[39.5,sup.p3],[66.5,sup.p4],[90,sup.p5]],[96]),sparse:p6Sparse,mid:p6Mid,dense:p6Dense,green:p6Green,red:p6Red,strays:p6Strays});
flow({left:425.2,right:672.9,top:619,bottom:861.7,gate:[46.3,39],xticks:tickSet([[21.4,'0'],[50.7,sup.p3],[71.8,sup.p4],[91.7,sup.p5]],[2,6,10,96]),
  yticks:tickSet([[8.2,sup.n2],[21.8,'0'],[35,sup.p2],[54,sup.p3],[72.8,sup.p4],[91.6,sup.p5]],[3,96]),sparse:p7Sparse,mid:p7Mid,dense:p7Dense,green:p7Green,red:p7Red,strays:p7Strays});
flow({left:784.1,right:1032.3,top:619,bottom:861.7,gate:[46.8,30.8],xticks:tickSet([[21.6,'0'],[50.7,sup.p3],[71.6,sup.p4],[91.4,sup.p5]],[2,6,10,96]),
  yticks:tickSet([[6.6,sup.n3],[23,'0'],[39.4,sup.p3],[66.6,sup.p4],[90.4,sup.p5]],[96]),sparse:p8Sparse,mid:p8Mid,dense:p8Dense,green:p8Green,red:p8Red,strays:p8Strays});
flow({left:1114.9,right:1362.9,top:617.7,bottom:865.7,gate:[44.9,55.1],xticks:tickSet([[19.2,'0'],[48.7,sup.p3],[70.7,sup.p4],[91.8,sup.p5]],[2,6,10,96]),
  yticks:tickSet([[11.5,sup.n2],[21.2,'0'],[29.9,sup.p2],[51.4,sup.p3],[71.8,sup.p4],[91,sup.p5]],[3,7,96]),sparse:p9Sparse,mid:p9Mid,dense:p9Dense,green:p9Green,red:p9Red,strays:p9Strays});
flow({left:1431,right:1683.9,top:613.3,bottom:866,gate:[36.3,31.3],xticks:tickSet([[18.9,'0'],[52.2,sup.p3],[72,sup.p4],[91.7,sup.p5]],[4,8,96]),
  yticks:tickSet([[24.8,'0'],[51.9,sup.p3],[72.3,sup.p4],[92,sup.p5]],[4,8,12,96]),sparse:p10Sparse,mid:p10Mid,dense:p10Dense,green:p10Green,red:p10Red,strays:p10Strays});

/* density row */
const gBoxes=[[537.8,751.4,606.7,gAC,gACBase],[785.8,999.5,855.3,gAM,gAMBase],[1033.6,1247.5,1103,gBL,gBLBase],[1282.2,1495.6,1351,gBM,gBMBase],[1530.3,1743.6,1599,gBH,gBHBase]];
gBoxes.forEach(b=>{
  const gx=(b[2]-b[0])/(b[1]-b[0])*100;
  flow({left:b[0],right:b[1],top:1306.5,bottom:1520,gate:[gx,39.5],gw:1.4,xticks:tickSet(gXTicks,[2,96]),yticks:tickSet(gYTicks,[96]),fs:8.5,tl:4,xpad:6,density:b[3],base:b[4]});
});

/* ---------- texts ---------- */
[['FSC-A',247,601.7],['FSC-A',574.3,595.7],['FITC CD3',899,596],['AmCyan CD4',1233.9,596],['APC CD8',902.2,290.7],['Pacific Blue CD44',1242.6,285.7],['FITC CD3',552,900],['FITC CD3',906.8,902.3],['Pacific Blue CD44',1228,897.7],['AmCyan CD4',1565.4,895],['APC CD25',658.4,1556]].forEach(p=>lbl(p[0],p[1],p[2],{size:16}));
[['SSC-A',71.4,450.7],['FSC-H',411.5,450.7],['SSC-A',738.2,450.7],['APC CD8',1074.8,442.3],['PE CD28',745.2,127.7],['PerCP-Cy5.5 CD62L',1088.6,130],['APC-Cy7 CD45R',377.9,736],['AlexaFluor 700 CD161A',739.9,736.7],['PerCP-Cy5.5 CD62L',1075.9,750.7],['PE CD28',1392.9,736.7],['FITC FOXP3',499.4,1416.7]].forEach(p=>lbl(p[0],p[1],p[2],{size:16,rot:1}));
const gateText=[
 ['Q9',792.9,19.3,11],['55.1',795.9,35,11],['Q10',1002.3,19.3,11],['38.1',1001.5,35,11],['Q12',795.9,222.7,11],['1.27',796.3,238.3,11],['Q11',1001.9,222.7,11],['5.59',1001.9,238.3,11],
 ['Q1',1142,19.3,11],['0.94',1145.4,35,11],['Q2',1351,19.3,11],['61.5',1347.6,35,11],['Q4',1142,219,11],['0.62',1145.4,234.7,11],['Q3',1351,219,11],['37.0',1347.6,234.7,11],
 ['CD3-',838.4,382.7,13],['57.1',837,401.7,13],['T cells',975.9,383.3,13],['42.8',977.2,402.3,13],
 ['Q1',1124.2,331.7,11],['40.6',1127.7,347.3,11],['Q2',1333.2,331.7,11],['3.01',1329.8,347.3,11],['Q4',1124.2,531.3,11],['1.97',1127.7,547,11],['Q3',1333.2,531.3,11],['54.4',1329.8,547,11],
 ['B cells',449.3,638.3,13],['47.4',442.6,657.3,13],['Q2',642.6,638.3,13],['0.67',638.1,657.3,13],['Q4',438,824,13],['51.7',442.6,843,13],['Q3',642.6,824,13],['0.24',638.1,843,13],
 ['NK cells',813.1,638.3,13],['31.3',801.5,657.3,13],['Q2',1001.5,638.3,13],['0',1006.8,657.3,13],['Q4',797,824,13],['68.7',801.5,843,13],['Q3',1001.5,824,13],['0',1006.8,843,13],
 ['Q1',1125.8,634,11],['0.99',1129.5,649.7,11],['Q2',1334.7,634,11],['73.0',1331.1,649.7,11],['Q4',1125.8,834,11],['0.29',1129.5,849.3,11],['Q3',1334.7,834,11],['25.7',1331.1,849.3,11],
 ['Q5',1442.8,629.7,11],['36.3',1446,645.3,11],['Q6',1655.3,629.7,11],['57.0',1651.7,645.3,11],['Q8',1442.8,833.3,11],['6.32',1446,849,11],['Q7',1655.3,833.3,11],['0.35',1651.7,849,11],
 ['Single Cells',528.9,393.7,11],['94.2',528.5,409,11]
];
gateText.forEach(p=>sans(p[0],p[1],p[2],p[3]));
const lymBox=document.createElement('div');
lymBox.style.cssText='position:absolute;left:169px;top:387px;width:88px;height:48px;background:rgba(255,255,255,.82);z-index:4';
stage.appendChild(lymBox);
sans('Lymphocytes',209.4,401,14);sans('26.7',212.4,420,14);
[['Treg cells',678.5,1333.3,'9.28',659,1361],['Treg cells',935.8,1333.3,'19.0',917,1361],['Treg cells',1186,1333.3,'12.4',1166,1361],['Treg cells',1438.7,1338,'10.8',1418.7,1366],['Treg cells',1687.3,1334,'9.94',1667.9,1362.3]].forEach(p=>{lbl(p[0],p[1],p[2],{size:16});lbl(p[3],p[4],p[5],{size:16});});
[['AC',645.8,1593],['AM',894,1593],['BZU-L',1157.6,1593],['BZU-M',1402.3,1593],['BZU-H',1638.3,1593]].forEach(p=>lbl(p[0],p[1],p[2],{size:28}));

/* ---------- connecting arrows ---------- */
const arrows=[[277,492.7,430.5,492.7],[617.7,397.3,749,397.3],[811,525.7,664.9,614.4],[991.9,486.7,1080,486.7],[531.4,808.7,726,808.7],[1144.1,321,1047.4,254],[1166.7,322.3,1166.7,268.3],[1297.7,556.7,1297.7,615],[1312.4,553.3,1393.8,604],[498.2,1552.7,498.2,1467.3],[498.2,1552.7,594,1552.7]];
const NS='http://www.w3.org/2000/svg',svg=document.createElementNS(NS,'svg');
svg.setAttribute('width',1772);svg.setAttribute('height',1606);svg.style.zIndex=6;
arrows.forEach(a=>{
  const dx=a[2]-a[0],dy=a[3]-a[1],d=Math.hypot(dx,dy),ux=dx/d,uy=dy/d,len=15,hw=5;
  const l=document.createElementNS(NS,'line');
  l.setAttribute('x1',a[0]);l.setAttribute('y1',a[1]);l.setAttribute('x2',a[2]-ux*10);l.setAttribute('y2',a[3]-uy*10);
  l.setAttribute('stroke','#111');l.setAttribute('stroke-width',1.7);svg.appendChild(l);
  const h=document.createElementNS(NS,'polygon');
  const bx=a[2]-ux*len,by=a[3]-uy*len;
  h.setAttribute('points',`${a[2]},${a[3]} ${bx-uy*hw},${by+ux*hw} ${bx+uy*hw},${by-ux*hw}`);
  h.setAttribute('fill','#111');svg.appendChild(h);
});
stage.appendChild(svg);
</script></body></html>
